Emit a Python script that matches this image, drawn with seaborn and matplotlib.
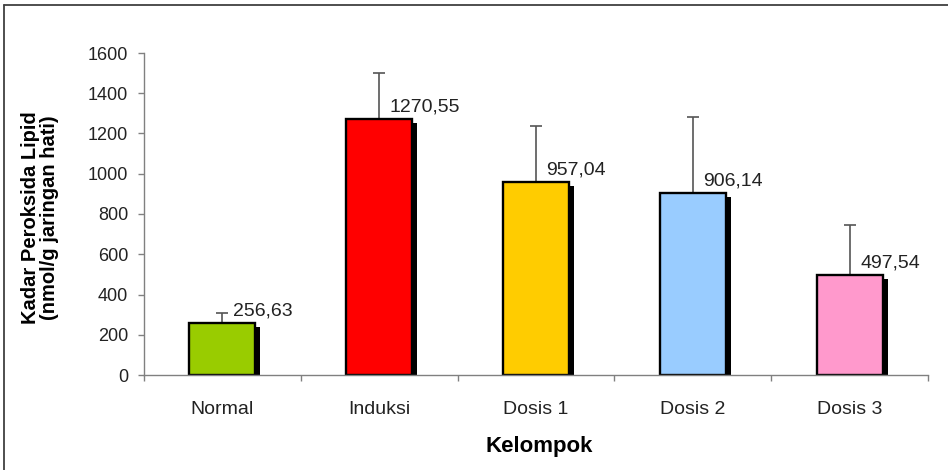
import numpy as np
import matplotlib
matplotlib.use("Agg")
import matplotlib.pyplot as plt
import matplotlib.patheffects as pe
from matplotlib.lines import Line2D
import seaborn as sns

# Data
groups = ['Normal', 'Induksi', 'Dosis 1', 'Dosis 2', 'Dosis 3']
values = [256.63, 1270.55, 957.04, 906.14, 497.54]
errors = [53, 229, 280, 374, 248]
value_labels = ['256,63', '1270,55', '957,04', '906,14', '497,54']
colors = ['#99CC00', '#FF0000', '#FFCC00', '#99CCFF', '#FF99CC']
y_ticks = [0, 200, 400, 600, 800, 1000, 1200, 1400, 1600]

sns.set_theme(style="ticks")
plt.rcParams['font.family'] = ['Liberation Sans', 'DejaVu Sans']

fig = plt.figure(figsize=(9.48, 4.70), dpi=100)
ax = fig.add_axes([144 / 948, 1 - 375 / 470, (928 - 144) / 948, (375 - 53) / 470])

sns.barplot(x=groups, y=values, hue=groups, palette=colors, legend=False, saturation=1,
            width=0.42, edgecolor='black', linewidth=1.7, zorder=2, ax=ax)

# Excel-style drop shadow under each bar
for bar in ax.patches:
    bar.set_path_effects([pe.SimplePatchShadow(offset=(3.6, -2.9), shadow_rgbFace='black', alpha=1.0),
                          pe.Normal()])

# upper error bars only
ax.errorbar(np.arange(len(groups)), values, yerr=[np.zeros(len(errors)), errors],
            fmt='none', ecolor='#555555', elinewidth=1.2, capsize=4.5, capthick=1.2, zorder=1)

for i, (v, lab) in enumerate(zip(values, value_labels)):
    ax.annotate(lab, xy=(i, v), xytext=(7.5, 5.5), textcoords='offset points',
                ha='left', va='baseline', fontsize=14, color='#222222', zorder=5)

ax.set_ylim(0, 1600)
ax.set_xlim(-0.5, len(groups) - 0.5)
ax.set_yticks(y_ticks)
ax.set_yticklabels([str(t) for t in y_ticks], fontsize=13, color='#222222')
ax.set_xticks(np.arange(len(groups)))
ax.set_xticklabels(groups, fontsize=14, color='#222222')
ax.set_xticks(np.arange(-0.5, len(groups), 1), minor=True)
ax.tick_params(axis='x', which='major', length=0, pad=19)
ax.tick_params(axis='x', which='minor', length=4.3, width=1, color='#808080', direction='out')
ax.tick_params(axis='y', which='major', length=4.3, width=1, color='#808080', direction='out', pad=7)

sns.despine(ax=ax)
for side in ['left', 'bottom']:
    ax.spines[side].set_color('#808080')
    ax.spines[side].set_linewidth(1.0)

ax.set_ylabel('Kadar Peroksida Lipid\n(nmol/g jaringan hati)', fontsize=14.5, fontweight='bold',
              color='black', va='center', ha='center', linespacing=1.0)
ax.yaxis.set_label_coords(-0.133, 0.49)
ax.set_xlabel('Kelompok', fontsize=16, fontweight='bold', color='black', va='center')
ax.xaxis.set_label_coords(0.504, -0.222)

# chart frame (top and left edges visible in the reference)
fig.add_artist(Line2D([4 / 948, 1.0], [1 - 5 / 470, 1 - 5 / 470], transform=fig.transFigure,
                      color='#404040', linewidth=1.3))
fig.add_artist(Line2D([4 / 948, 4 / 948], [0.0, 1 - 5 / 470], transform=fig.transFigure,
                      color='#404040', linewidth=1.3))

fig.savefig('out.png', dpi=100)
